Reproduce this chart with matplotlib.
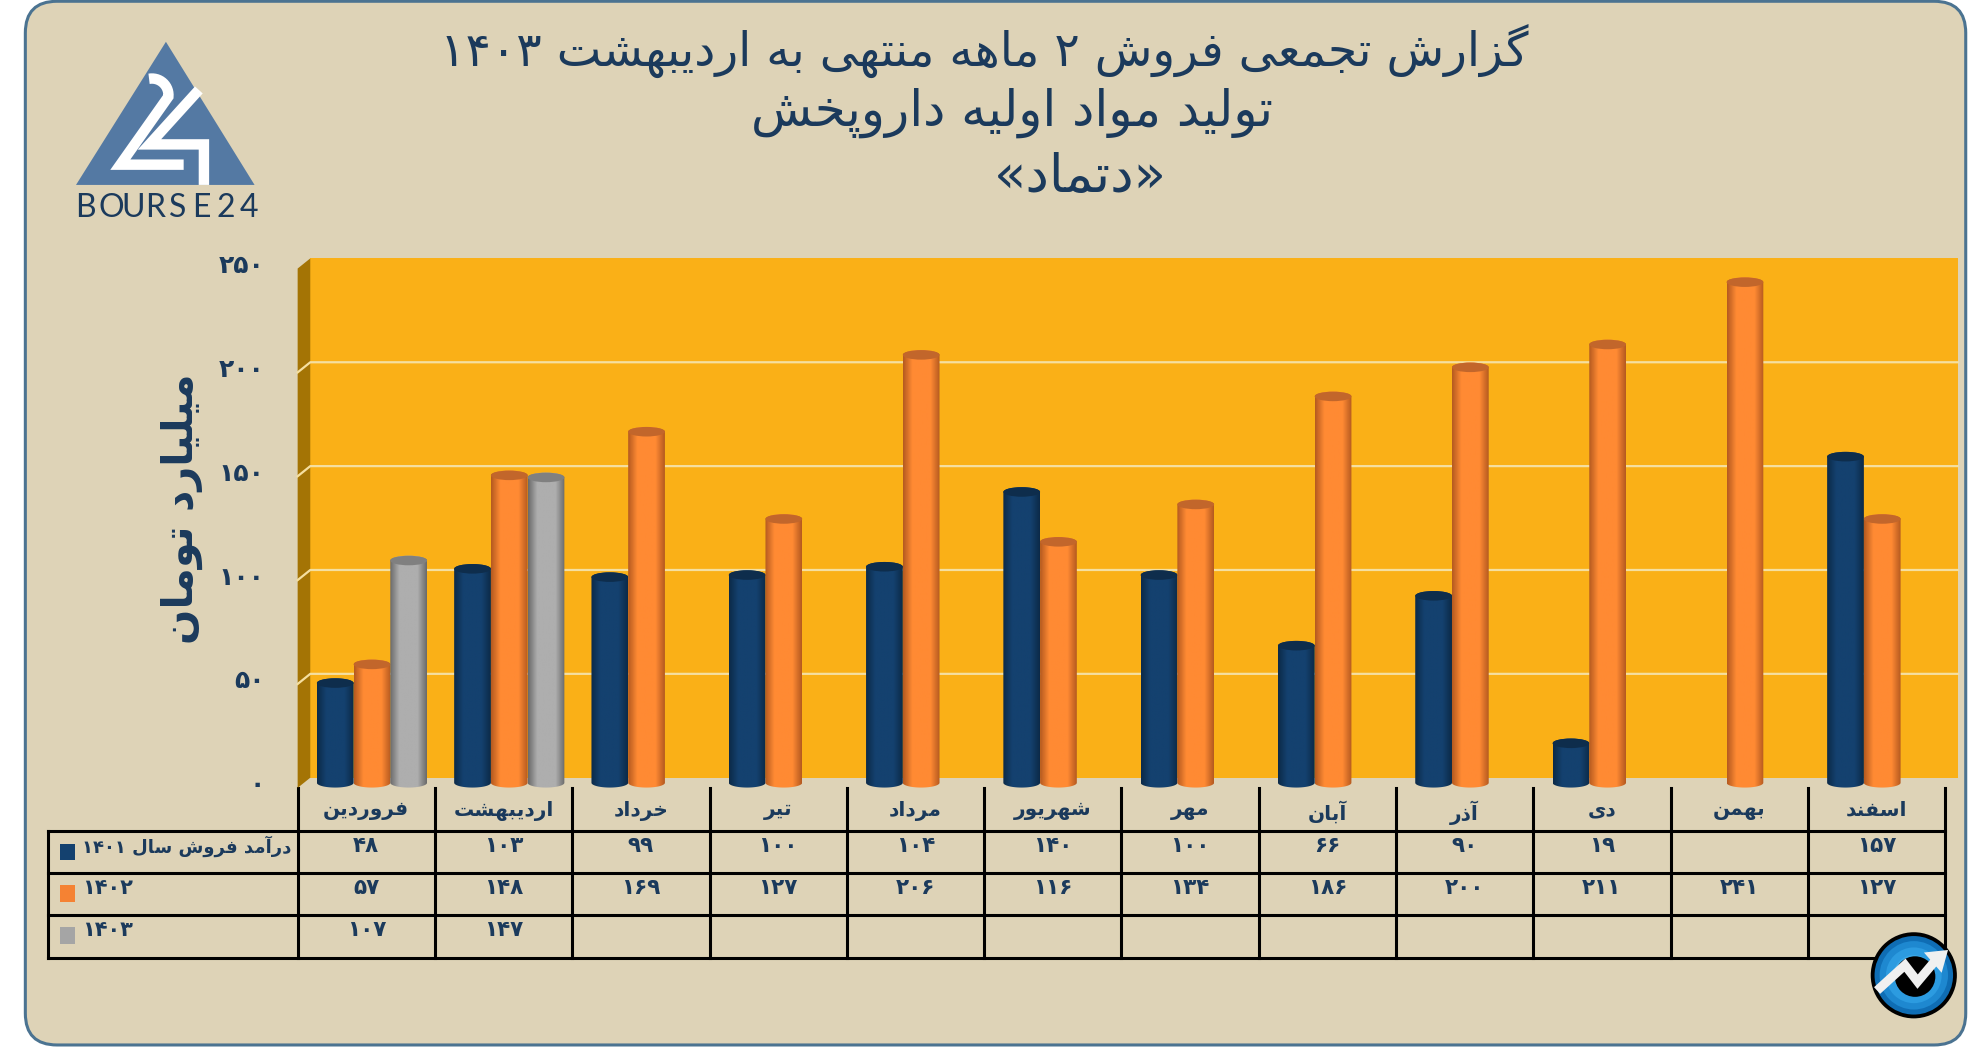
import numpy as np
import matplotlib
matplotlib.use("Agg")
import matplotlib.pyplot as plt
from matplotlib.colors import LinearSegmentedColormap
from matplotlib.patches import Circle, Ellipse, FancyBboxPatch, Polygon, Rectangle

months = ["فروردین", "اردیبهشت", "خرداد", "تیر", "مرداد", "شهریور",
          "مهر", "آبان", "آذر", "دی", "بهمن", "اسفند"]
sales_1401 = [48, 103, 99, 100, 104, 140, 100, 66, 90, 19, None, 157]
sales_1402 = [57, 148, 169, 127, 206, 116, 134, 186, 200, 211, 241, 127]
sales_1403 = [107, 147, None, None, None, None, None, None, None, None, None, None]
series_names = ["درآمد فروش سال ۱۴۰۱", "۱۴۰۲", "۱۴۰۳"]
y_ticks = [0, 50, 100, 150, 200, 250]
title_lines = ["گزارش تجمعی فروش ۲ ماهه منتهی به اردیبهشت ۱۴۰۳",
               "تولید مواد اولیه داروپخش", "«دتماد»"]
y_title = "میلیارد تومان"

# matplotlib does no arabic shaping, so pick the joined forms by hand
DUAL = {"ب": 0xFE8F, "پ": 0xFB56, "ت": 0xFE95, "ث": 0xFE99, "ج": 0xFE9D, "چ": 0xFB7A,
        "ح": 0xFEA1, "خ": 0xFEA5, "س": 0xFEB1, "ش": 0xFEB5, "ص": 0xFEB9, "ض": 0xFEBD,
        "ط": 0xFEC1, "ظ": 0xFEC5, "ع": 0xFEC9, "غ": 0xFECD, "ف": 0xFED1, "ق": 0xFED5,
        "ک": 0xFB8E, "گ": 0xFB92, "ل": 0xFEDD, "م": 0xFEE1, "ن": 0xFEE5, "ه": 0xFEE9,
        "ی": 0xFBFC}
RIGHT = {"ا": 0xFE8D, "آ": 0xFE81, "د": 0xFEA9, "ذ": 0xFEAB, "ر": 0xFEAD, "ز": 0xFEAF,
         "ژ": 0xFB8A, "و": 0xFEED}
MIRROR = {"«": "»", "»": "«"}


def shape_word(word):
    if word[0] in "۰۱۲۳۴۵۶۷۸۹":
        return word
    out = []
    for i, ch in enumerate(word):
        before = i > 0 and word[i - 1] in DUAL
        after = i + 1 < len(word) and (word[i + 1] in DUAL or word[i + 1] in RIGHT)
        if ch in DUAL:
            out.append(chr(DUAL[ch] + (2 + before if after else before)))
        elif ch in RIGHT:
            out.append(chr(RIGHT[ch] + before))
        else:
            out.append(MIRROR.get(ch, ch))
    return "".join(reversed(out))


def fa(text):
    return " ".join(shape_word(w) for w in reversed(text.split(" ")))


def fa_num(value):
    if value is None:
        return ""
    return str(value).translate(str.maketrans("0123456789", "۰۱۲۳۴۵۶۷۸۹"))


plt.rcParams["font.family"] = ["DejaVu Sans"]
NAVY = "#1B3A5C"
W, H = 1568, 826.6

fig = plt.figure(figsize=(19.86, 10.47), dpi=100, facecolor="white")

# page layer, in reference pixels
page = fig.add_axes([0, 0, 1, 1], zorder=0)
page.set_xlim(0, W)
page.set_ylim(H, 0)
page.axis("off")
page.add_patch(FancyBboxPatch((20, 1), 1532, 824, boxstyle="round,pad=0,rounding_size=25",
                              fc="#DED3B7", ec="#4B7391", lw=2.2))

# bourse24 logo
page.add_patch(Polygon([(131, 33), (60, 146), (201, 146)], fc="#5479A3", ec="none"))
t = np.linspace(-1.75, 0.1, 16)
two_x = list(120 + 13 * np.cos(t)) + [95, 145]
two_y = list(75 + 13 * np.sin(t)) + [130, 130]
page.plot(two_x, two_y, color="white", lw=7.5, solid_joinstyle="miter", solid_capstyle="butt")
page.plot([157, 118, 161, 161], [71, 114, 114, 146], color="white", lw=7.5,
          solid_joinstyle="miter", solid_capstyle="butt")
for k, letter in enumerate("BOURSE24"):
    page.text(59 + k * 18.6, 164, letter, color=NAVY, fontsize=23, family="Lato",
              ha="left", va="center")

for i, line in enumerate(title_lines):
    page.text([777, 799, 853][i], [40, 89, 140][i], fa(line), color=NAVY, fontsize=[34, 36, 38][i],
              ha="center", va="center")
page.text(144, 402, fa(y_title), color=NAVY, fontsize=30, fontweight="bold", rotation=90,
          ha="center", va="center")

# chart layer: 12 month slots, value axis 0..250
X0, CW = 235, 108.4
ax = fig.add_axes([X0 / W, 1 - 618 / H, 12 * CW / W, 410 / H], zorder=1)
ax.patch.set_visible(False)
ax.set_xlim(0, 12)
ax.set_ylim(0, 250)
for s in ax.spines.values():
    s.set_visible(False)

depth_x, depth_y = 0.092, 2.44
ax.add_patch(Rectangle((depth_x, depth_y), 12, 250, fc="#FAB017", ec="none", clip_on=False, zorder=1))
ax.add_patch(Polygon([(0, -depth_y), (depth_x, depth_y), (depth_x, 250 + depth_y), (0, 250 - depth_y)],
                     fc="#A47405", ec="none", clip_on=False, zorder=1))
for v in y_ticks[1:-1]:
    ax.plot([0, depth_x, 12 + depth_x], [v - depth_y, v + depth_y, v + depth_y], color="#F5DFA0",
            lw=1.6, clip_on=False, zorder=2)

styles = [("#0C2A48", "#14416F", "#0E2D4C"),
          ("#B55A20", "#FF8A33", "#C2662B"),
          ("#6B6B6B", "#AEAEAE", "#808080")]
slot_left, bar_w, cap_h = 0.14, 0.2675, 4.6
arc = np.linspace(0, np.pi, 40)
for j, (values, (edge, mid, cap)) in enumerate(zip([sales_1401, sales_1402, sales_1403], styles)):
    cmap = LinearSegmentedColormap.from_list("c", [edge, mid, mid, mid, edge], 64)
    for i, v in enumerate(values):
        if v is None:
            continue
        x0 = i + slot_left + j * bar_w
        xc = x0 + bar_w / 2
        # silhouette: bottom half of base ellipse, then top half of cap ellipse
        xs = np.r_[xc - bar_w / 2 * np.cos(arc), xc + bar_w / 2 * np.cos(arc)]
        ys = np.r_[-cap_h / 2 * np.sin(arc), v + cap_h / 2 * np.sin(arc)]
        body = Polygon(np.c_[xs, ys], transform=ax.transData)
        im = ax.imshow(np.linspace(0, 1, 64)[None, :], cmap=cmap, aspect="auto",
                       extent=[x0, x0 + bar_w, -cap_h, v + cap_h], zorder=3 + j,
                       interpolation="bilinear")
        im.set_clip_box(fig.bbox)
        im.set_clip_path(body)
        ax.add_patch(Ellipse((xc, v), bar_w, cap_h, fc=cap, ec="none", zorder=3 + j, clip_on=False))
ax.set_xlim(0, 12)
ax.set_ylim(0, 250)

ax.set_yticks(y_ticks, [fa_num(v) for v in y_ticks], fontsize=18, fontweight="bold", color=NAVY)
ax.set_xticks(np.arange(12) + 0.5, [fa(m) for m in months], fontsize=14.5, fontweight="bold", color=NAVY)
ax.tick_params(axis="y", length=0, pad=24)
ax.tick_params(axis="x", length=0, pad=13)

# data table under the chart
rows_y = [656, 689, 722, 756]
for y in rows_y:
    page.plot([38, X0 + 12 * CW], [y, y], color="black", lw=2.2, solid_capstyle="projecting")
page.plot([38, 38], [rows_y[0], rows_y[-1]], color="black", lw=2.2)
for k in range(13):
    page.plot([X0 + k * CW] * 2, [622, rows_y[-1]], color="black", lw=2.2)

swatches = ["#14416F", "#F58233", "#A5A5A5"]
for r, values in enumerate([sales_1401, sales_1402, sales_1403]):
    page.add_patch(Rectangle((47, rows_y[r] + 10), 12, 13, fc=swatches[r], ec="none"))
    page.text(65, rows_y[r] + 12, fa(series_names[r]), color=NAVY, fontsize=13 if r == 0 else 15,
              fontweight="bold", ha="left", va="center")
    for i, v in enumerate(values):
        page.text(X0 + (i + 0.5) * CW, rows_y[r] + 12, fa_num(v), color=NAVY, fontsize=15.5,
                  fontweight="bold", ha="center", va="center")

# round badge, bottom right
cx, cy = 1511, 770
page.add_patch(Circle((cx, cy), 34, fc="black", ec="none", zorder=5))
for r, c in zip([31, 27, 22, 16], ["#0F6DB4", "#1E88D0", "#2C9BE0", "#3AA8E8"]):
    page.add_patch(Circle((cx, cy), r, fc=c, ec="none", zorder=5))
page.add_patch(Circle((cx + 1, cy + 1), 16, fc="black", ec="none", zorder=5))
page.plot([1482, 1504, 1514, 1530], [782, 762, 775, 756], color="#F0F0F0", lw=6.5,
          solid_joinstyle="miter", solid_capstyle="butt", zorder=6)
page.add_patch(Polygon([(1538, 750), (1519, 752), (1533, 768)], fc="#F0F0F0", ec="none", zorder=6))

fig.savefig("out.png", dpi=100, facecolor="white")
